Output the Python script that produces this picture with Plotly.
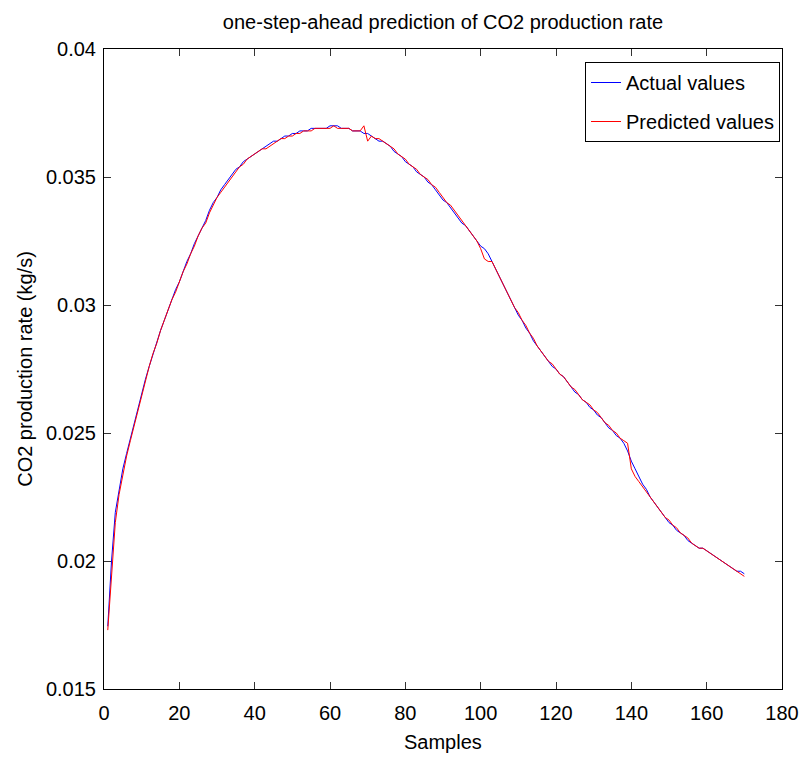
import plotly.graph_objects as go

samples = list(range(1, 171))

actual = [
    0.01745, 0.0200, 0.0219, 0.0228, 0.0236, 0.0242, 0.0248, 0.0254, 0.0260, 0.0265,
    0.0271, 0.0276, 0.0281, 0.0286, 0.0290, 0.0294, 0.0298, 0.0302, 0.0306, 0.0309,
    0.0313, 0.0317, 0.0320, 0.0324, 0.0327, 0.0330, 0.0333, 0.0337, 0.0340, 0.0342,
    0.0345, 0.0347, 0.0349, 0.0351, 0.0353, 0.0354, 0.0356, 0.0357, 0.0358, 0.0359,
    0.0360, 0.0361, 0.0362, 0.0363, 0.0364, 0.0364, 0.0365, 0.0366, 0.0366, 0.0367,
    0.0367, 0.0368, 0.0368, 0.0368, 0.0369, 0.0369, 0.0369, 0.0369, 0.0369, 0.0370,
    0.0370, 0.0370, 0.0369, 0.0369, 0.0369, 0.0368, 0.0368, 0.0368, 0.0367, 0.0367,
    0.0366, 0.0365, 0.0364, 0.0364, 0.0363, 0.0362, 0.0360, 0.0359, 0.0358, 0.0356,
    0.0355, 0.0354, 0.0352, 0.0351, 0.0350, 0.0348, 0.0347, 0.0345, 0.0343, 0.0341,
    0.0340, 0.0338, 0.0336, 0.0334, 0.0332, 0.0331, 0.0329, 0.0327, 0.0325, 0.0323,
    0.0322, 0.0320, 0.0317, 0.0314, 0.0311, 0.0308, 0.0305, 0.0302, 0.0299, 0.0296,
    0.0294, 0.0291, 0.0289, 0.0286, 0.0284, 0.0282, 0.0280, 0.0278, 0.0276, 0.0275,
    0.0273, 0.0272, 0.0270, 0.0268, 0.0266, 0.0265, 0.0263, 0.0262, 0.0260, 0.0259,
    0.0257, 0.0256, 0.0254, 0.0252, 0.0251, 0.0249, 0.0248, 0.0246, 0.0243, 0.0239,
    0.0236, 0.0233, 0.0230, 0.0228, 0.0225, 0.0223, 0.0221, 0.0219, 0.0217, 0.0215,
    0.0214, 0.0212, 0.0211, 0.0210, 0.0208, 0.0207, 0.0206, 0.0205, 0.0205, 0.0204,
    0.0203, 0.0202, 0.0201, 0.0200, 0.0199, 0.0198, 0.0197, 0.0196, 0.0196, 0.0195,
]

predicted = [
    0.01730, 0.0195, 0.0215, 0.0226, 0.0234, 0.0241, 0.0247, 0.0253, 0.0259, 0.0265,
    0.0270, 0.0276, 0.0281, 0.0285, 0.0290, 0.0294, 0.0298, 0.0302, 0.0305, 0.0309,
    0.0313, 0.0316, 0.0320, 0.0323, 0.0327, 0.0330, 0.0332, 0.0336, 0.0339, 0.0342,
    0.0344, 0.0346, 0.0348, 0.0350, 0.0352, 0.0354, 0.0355, 0.0357, 0.0358, 0.0359,
    0.0360, 0.0361, 0.0361, 0.0362, 0.0363, 0.0364, 0.0365, 0.0365, 0.0366, 0.0366,
    0.0367, 0.0367, 0.0368, 0.0368, 0.0368, 0.0369, 0.0369, 0.0369, 0.0369, 0.0369,
    0.0370, 0.0369, 0.0369, 0.0369, 0.0369, 0.0368, 0.0368, 0.0368, 0.0370, 0.0364,
    0.0366, 0.0365, 0.0365, 0.0364, 0.0363, 0.0362, 0.0361, 0.0359, 0.0358, 0.0357,
    0.0355, 0.0354, 0.0353, 0.0351, 0.0350, 0.0349, 0.0347, 0.0346, 0.0344, 0.0342,
    0.0340, 0.0339, 0.0337, 0.0335, 0.0333, 0.0331, 0.0329, 0.0327, 0.0325, 0.0322,
    0.0318, 0.0317, 0.0317, 0.0314, 0.0311, 0.0308, 0.0305, 0.0302, 0.0299, 0.0297,
    0.0294, 0.0292, 0.0289, 0.0287, 0.0284, 0.0282, 0.0280, 0.0278, 0.0277, 0.0275,
    0.0273, 0.0272, 0.0270, 0.0268, 0.0267, 0.0265, 0.0263, 0.0262, 0.0261, 0.0259,
    0.0258, 0.0256, 0.0254, 0.0253, 0.0251, 0.0250, 0.0248, 0.0247, 0.0246, 0.0236,
    0.0233, 0.0231, 0.0229, 0.0227, 0.0225, 0.0223, 0.0221, 0.0219, 0.0217, 0.0216,
    0.0214, 0.0213, 0.0211, 0.0210, 0.0209, 0.0207, 0.0206, 0.0205, 0.0205, 0.0204,
    0.0203, 0.0202, 0.0201, 0.0200, 0.0199, 0.0198, 0.0197, 0.0196, 0.0195, 0.0194,
]

x_ticks = [0, 20, 40, 60, 80, 100, 120, 140, 160, 180]
y_ticks = [0.015, 0.02, 0.025, 0.03, 0.035, 0.04]
y_tick_labels = ["0.015", "0.02", "0.025", "0.03", "0.035", "0.04"]

FONT = "Liberation Sans, Arial, Helvetica, sans-serif"
FS = 20

fig = go.Figure()
fig.add_trace(go.Scatter(x=samples, y=actual, mode="lines", name="Actual values",
                         line=dict(color="#0000ff", width=1), legendgroup="a"))
fig.add_trace(go.Scatter(x=samples, y=predicted, mode="lines", name="Predicted values",
                         line=dict(color="#ff0000", width=1), legendgroup="p"))

axis_common = dict(showline=True, linecolor="black", linewidth=1, mirror="ticks",
                   ticks="inside", ticklen=7, tickcolor="#333333", showgrid=False,
                   zeroline=False, tickfont=dict(family=FONT, size=FS, color="black"))

fig.update_xaxes(range=[0, 180], tickvals=x_ticks, ticklabelstandoff=6, **axis_common)
fig.update_yaxes(range=[0.015, 0.04], tickvals=y_ticks, ticktext=y_tick_labels,
                 ticklabelstandoff=3, **axis_common)

fig.update_layout(
    width=811, height=760,
    margin=dict(l=104, r=22, t=49, b=71),
    paper_bgcolor="white", plot_bgcolor="white",
    font=dict(family=FONT, size=FS, color="black"),
    title=dict(text="one-step-ahead prediction of CO2 production rate",
               x=0.5, xref="paper", xanchor="center",
               y=1 - 22 / 760, yref="container", yanchor="middle",
               font=dict(family=FONT, size=FS, color="black")),
    legend=dict(x=(787 - 104) / 685, y=(689 - 62) / 640, xanchor="right", yanchor="top",
                bgcolor="white", bordercolor="black", borderwidth=1,
                tracegroupgap=10, font=dict(family=FONT, size=FS, color="black")),
    annotations=[
        dict(text="Samples", xref="paper", yref="paper", x=0.5, y=-(742 - 689) / 640,
             xanchor="center", yanchor="middle", showarrow=False,
             font=dict(family=FONT, size=FS, color="black")),
        dict(text="CO2 production rate (kg/s)", xref="paper", yref="paper",
             x=-(104 - 24) / 685, y=0.5, xanchor="center", yanchor="middle",
             textangle=-90, showarrow=False,
             font=dict(family=FONT, size=FS, color="black")),
    ],
)

fig.write_html("out.html")
